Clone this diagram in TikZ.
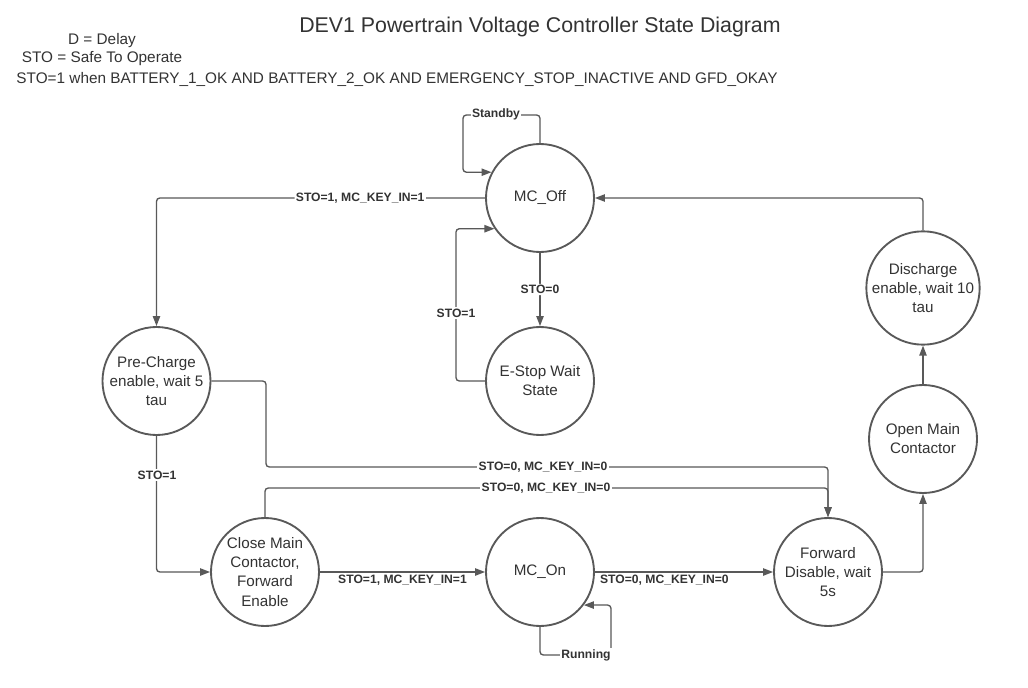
\documentclass[tikz,border=0pt]{standalone}
\usepackage{fontspec}
\setmainfont{Liberation Sans}
\usetikzlibrary{arrows.meta}
\definecolor{ln}{HTML}{595959}
\definecolor{tx}{HTML}{333333}
\begin{document}
\begin{tikzpicture}[x=0.75pt,y=-0.75pt,
  state/.style={circle,draw=ln,line width=1.4pt,minimum size=81pt,inner sep=0pt,
    align=center,text=tx,font=\fontsize{11.4}{14.3}\selectfont},
  conn/.style={draw=ln,line width=1pt,rounded corners=2.5pt,
    -{Triangle[length=7.5pt,width=5.5pt]}},
  lbl/.style={font=\bfseries\fontsize{9.1}{10}\selectfont,text=tx,fill=white,inner sep=1pt},
  hdr/.style={text=tx,inner sep=0pt,font=\fontsize{11.5}{13}\selectfont}]
\useasboundingbox[fill=white] (0,0) rectangle (1028,688);

% header
\node[text=tx,inner sep=0pt,font=\fontsize{16}{18}\selectfont] (title) at (540,27) {DEV1 Powertrain Voltage Controller State Diagram};
\node[hdr] (h1) at (102,41) {D = Delay};
\node[hdr] (h2) at (102,59) {STO = Safe To Operate};
\node[hdr] (h3) at (397,79) {STO=1 when BATTERY\_1\_OK AND BATTERY\_2\_OK AND EMERGENCY\_STOP\_INACTIVE AND GFD\_OKAY};

% states
\node[state] (off) at (540,198) {MC\_Off};
\node[state] (estop) at (540,381) {E-Stop Wait\\State};
\node[state] (pre) at (156.5,381) {Pre-Charge\\enable, wait 5\\tau};
\node[state] (close) at (265,572) {Close Main\\Contactor,\\Forward\\Enable};
\node[state] (on) at (540,572) {MC\_On};
\node[state] (fwd) at (828,572) {Forward\\Disable, wait\\5s};
\node[state] (open) at (923,439) {Open Main\\Contactor};
\node[state] (dis) at (923,288) {Discharge\\enable, wait 10\\tau};

% helper coordinates
\coordinate (sbc) at (463,115);
\coordinate (esc) at (456,313);
\coordinate (pcc) at (266,467);
\coordinate (ccc) at (546,488);
\coordinate (rnc) at (611,655);

% connectors
\draw[conn] (off.north) |- (sbc) |- (off.152);
\node[lbl] (lsb) at (496,114) {Standby};

\draw[conn] (off.west) -| node[lbl,pos=0.19] (l1) {STO=1, MC\_KEY\_IN=1} (pre.north);

\draw[conn] (off.south) -- node[lbl] (l2) {STO=0} (estop.north);

\draw[conn] (estop.west) -| (esc) |- (off.214);
\node[lbl] (l3) at (esc) {STO=1};

\draw[conn] (dis.north) |- (off.east);
\draw[conn] (open.north) -- (dis.south);
\draw[conn] (fwd.east) -| (open.south);

\draw[conn] (pre.east) -| (pcc) -| (fwd.north);
\node[lbl] (l4) at (543,467) {STO=0, MC\_KEY\_IN=0};

\draw[conn] (close.north) |- (ccc) -| (fwd.north);
\node[lbl] (l5) at (ccc) {STO=0, MC\_KEY\_IN=0};

\draw[conn] (pre.south) |- (close.west);
\node[lbl] (l6) at (157,475) {STO=1};

\draw[conn] (close.east) -- node[lbl,below=1pt,fill=none] (l7) {STO=1, MC\_KEY\_IN=1} (on.west);
\draw[conn] (on.east) -- node[lbl,below=1pt,fill=none,pos=0.39] (l8) {STO=0, MC\_KEY\_IN=0} (fwd.west);

\draw[conn] (on.south) |- (rnc) |- (on.323);
\node[lbl] (l9) at (586,655) {Running};
\end{tikzpicture}
\end{document}
